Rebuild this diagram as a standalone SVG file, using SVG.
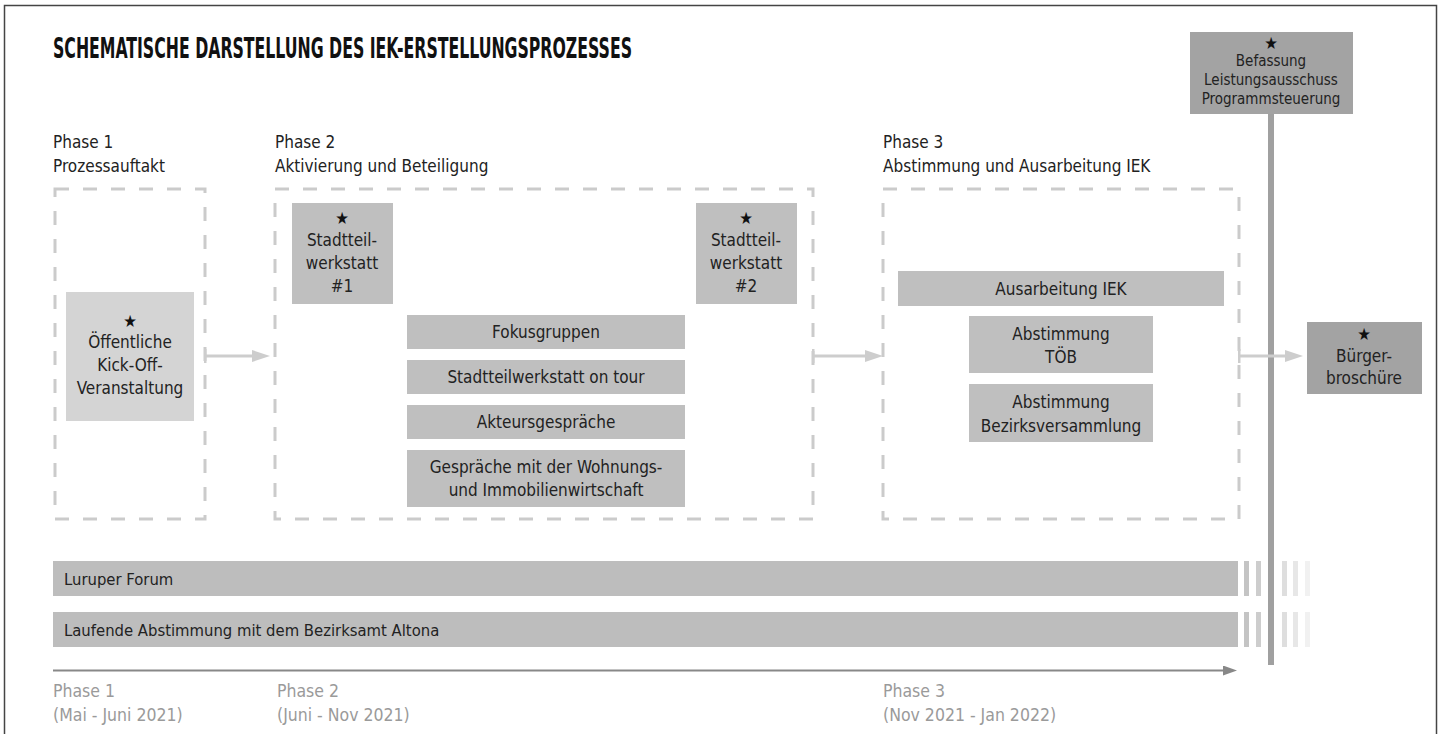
<svg xmlns="http://www.w3.org/2000/svg" width="1445" height="734" viewBox="0 0 1445 734">
<style>
text{font-family:"DejaVu Sans Condensed","Liberation Sans Narrow","DejaVu Sans",sans-serif;font-stretch:condensed;fill:#222;}
.title{font-weight:bold;font-size:29px;fill:#111;}
.ph{font-size:17px;fill:#222;}
.tl{font-size:17.5px;fill:#9a9a9a;}
.bt{font-size:17px;text-anchor:middle;}
.bs{font-size:15px;text-anchor:middle;}
.bl{font-size:16.5px;}
.star{font-size:17px;text-anchor:middle;fill:#111;}
.dash{fill:none;stroke:#cbcbcb;stroke-width:3;stroke-dasharray:14 14;}
.box1{fill:#d4d4d4;}
.box2{fill:#bfbfbf;}
.box3{fill:#a3a3a3;}
.bar{fill:#bdbdbd;}
.conn{stroke:#cdcdcd;stroke-width:3;fill:none;}
</style>
<defs>
<marker id="ah" viewBox="0 0 18 12" refX="0" refY="6" markerWidth="18" markerHeight="12" markerUnits="userSpaceOnUse" orient="auto">
<path d="M0,0 L18,6 L0,12 Z" fill="#cdcdcd"/>
</marker>
<marker id="tick" viewBox="0 0 3 14" refX="1.5" refY="7" markerWidth="3" markerHeight="14" markerUnits="userSpaceOnUse" orient="auto">
<rect x="0" y="0" width="3" height="14" fill="#cdcdcd"/>
</marker>
<marker id="ah2" viewBox="0 0 14 10" refX="0" refY="5" markerWidth="14" markerHeight="10" markerUnits="userSpaceOnUse" orient="auto">
<path d="M0,0 L14,5 L0,10 Z" fill="#888"/>
</marker>
</defs>
<rect x="0" y="0" width="1445" height="734" fill="#fff"/>
<rect x="4.5" y="5.5" width="1432" height="740" fill="none" stroke="#444" stroke-width="1.5"/>

<text class="title" x="53" y="58" textLength="579" lengthAdjust="spacingAndGlyphs">SCHEMATISCHE DARSTELLUNG DES IEK-ERSTELLUNGSPROZESSES</text>

<g id="phase-labels">
<text class="ph" x="53" y="148">Phase 1</text>
<text class="ph" x="53" y="172">Prozessauftakt</text>
<text class="ph" x="275" y="148">Phase 2</text>
<text class="ph" x="275" y="172">Aktivierung und Beteiligung</text>
<text class="ph" x="883" y="148">Phase 3</text>
<text class="ph" x="883" y="172">Abstimmung und Ausarbeitung IEK</text>
</g>

<g id="phase1"><rect class="dash" x="55" y="189" width="150" height="330"/></g>
<g id="phase2"><rect class="dash" x="275" y="189" width="538" height="330"/></g>
<g id="phase3"><rect class="dash" x="883" y="189" width="356" height="330"/></g>

<g id="kickoff">
<rect class="box1" x="66" y="292" width="128" height="129"/>
<text class="star" x="130" y="327">★</text>
<text class="bt" x="130" y="348">Öffentliche</text>
<text class="bt" x="130" y="371">Kick-Off-</text>
<text class="bt" x="130" y="394">Veranstaltung</text>
</g>

<g id="werkstatt1">
<rect class="box2" x="292" y="203" width="101" height="101"/>
<text class="star" x="342" y="224">★</text>
<text class="bt" x="342" y="246">Stadtteil-</text>
<text class="bt" x="342" y="269">werkstatt</text>
<text class="bt" x="342" y="292">#1</text>
</g>

<g id="werkstatt2">
<rect class="box2" x="696" y="203" width="101" height="101"/>
<text class="star" x="746" y="224">★</text>
<text class="bt" x="746" y="246">Stadtteil-</text>
<text class="bt" x="746" y="269">werkstatt</text>
<text class="bt" x="746" y="292">#2</text>
</g>

<g id="fokusgruppen">
<rect class="box2" x="407" y="315" width="278" height="34"/>
<text class="bt" x="546" y="338">Fokusgruppen</text>
</g>
<g id="ontour">
<rect class="box2" x="407" y="360" width="278" height="34"/>
<text class="bt" x="546" y="383">Stadtteilwerkstatt on tour</text>
</g>
<g id="akteure">
<rect class="box2" x="407" y="405" width="278" height="34"/>
<text class="bt" x="546" y="428">Akteursgespräche</text>
</g>
<g id="wohnung">
<rect class="box2" x="407" y="450" width="278" height="57"/>
<text class="bt" x="546" y="473">Gespräche mit der Wohnungs-</text>
<text class="bt" x="546" y="496">und Immobilienwirtschaft</text>
</g>

<g id="ausarbeitung">
<rect class="box2" x="898" y="271" width="326" height="35"/>
<text class="bt" x="1061" y="295">Ausarbeitung IEK</text>
</g>
<g id="toeb">
<rect class="box2" x="969" y="316" width="184" height="57"/>
<text class="bt" x="1061" y="340">Abstimmung</text>
<text class="bt" x="1061" y="363">TÖB</text>
</g>
<g id="bezirk">
<rect class="box2" x="969" y="384" width="184" height="58"/>
<text class="bt" x="1061" y="408">Abstimmung</text>
<text class="bt" x="1061" y="432">Bezirksversammlung</text>
</g>

<g id="luruper">
<rect class="bar" x="53" y="561" width="1185" height="35"/>
<text class="bl" x="64" y="585">Luruper Forum</text>
<rect x="1244" y="561" width="5" height="35" fill="#c4c4c4"/>
<rect x="1256" y="561" width="5" height="35" fill="#cdcdcd"/>
<rect x="1282" y="561" width="5" height="35" fill="#dedede"/>
<rect x="1293" y="561" width="5" height="35" fill="#e7e7e7"/>
<rect x="1305" y="561" width="5" height="35" fill="#f1f1f1"/>
</g>
<g id="bezirksamt">
<rect class="bar" x="53" y="612" width="1185" height="35"/>
<text class="bl" x="64" y="636">Laufende Abstimmung mit dem Bezirksamt Altona</text>
<rect x="1244" y="612" width="5" height="35" fill="#c4c4c4"/>
<rect x="1256" y="612" width="5" height="35" fill="#cdcdcd"/>
<rect x="1282" y="612" width="5" height="35" fill="#dedede"/>
<rect x="1293" y="612" width="5" height="35" fill="#e7e7e7"/>
<rect x="1305" y="612" width="5" height="35" fill="#f1f1f1"/>
</g>

<g id="befassung">
<rect x="1268" y="114" width="6" height="551" fill="#a0a0a0"/>
<rect class="box3" x="1190" y="32" width="163" height="82"/>
<text class="star" x="1271" y="49">★</text>
<text class="bs" x="1271" y="66">Befassung</text>
<text class="bs" x="1271" y="85">Leistungsausschuss</text>
<text class="bs" x="1271" y="104">Programmsteuerung</text>
</g>

<g id="broschuere">
<rect class="box3" x="1307" y="322" width="115" height="72"/>
<text class="star" x="1364" y="340">★</text>
<text class="bt" x="1364" y="362">Bürger-</text>
<text class="bt" x="1364" y="384">broschüre</text>
</g>

<g id="connectors">
<line class="conn" x1="205" y1="356" x2="252" y2="356" marker-start="url(#tick)" marker-end="url(#ah)"/>
<line class="conn" x1="813" y1="356" x2="865" y2="356" marker-start="url(#tick)" marker-end="url(#ah)"/>
<line class="conn" x1="1239" y1="356" x2="1285" y2="356" marker-start="url(#tick)" marker-end="url(#ah)"/>
<line x1="53" y1="670.5" x2="1223" y2="670.5" stroke="#888" stroke-width="2" marker-end="url(#ah2)"/>
</g>

<g id="timeline-labels">
<text class="tl" x="53" y="697">Phase 1</text>
<text class="tl" x="53" y="721">(Mai - Juni 2021)</text>
<text class="tl" x="277" y="697">Phase 2</text>
<text class="tl" x="277" y="721">(Juni - Nov 2021)</text>
<text class="tl" x="883" y="697">Phase 3</text>
<text class="tl" x="883" y="721">(Nov 2021 - Jan 2022)</text>
</g>
</svg>
